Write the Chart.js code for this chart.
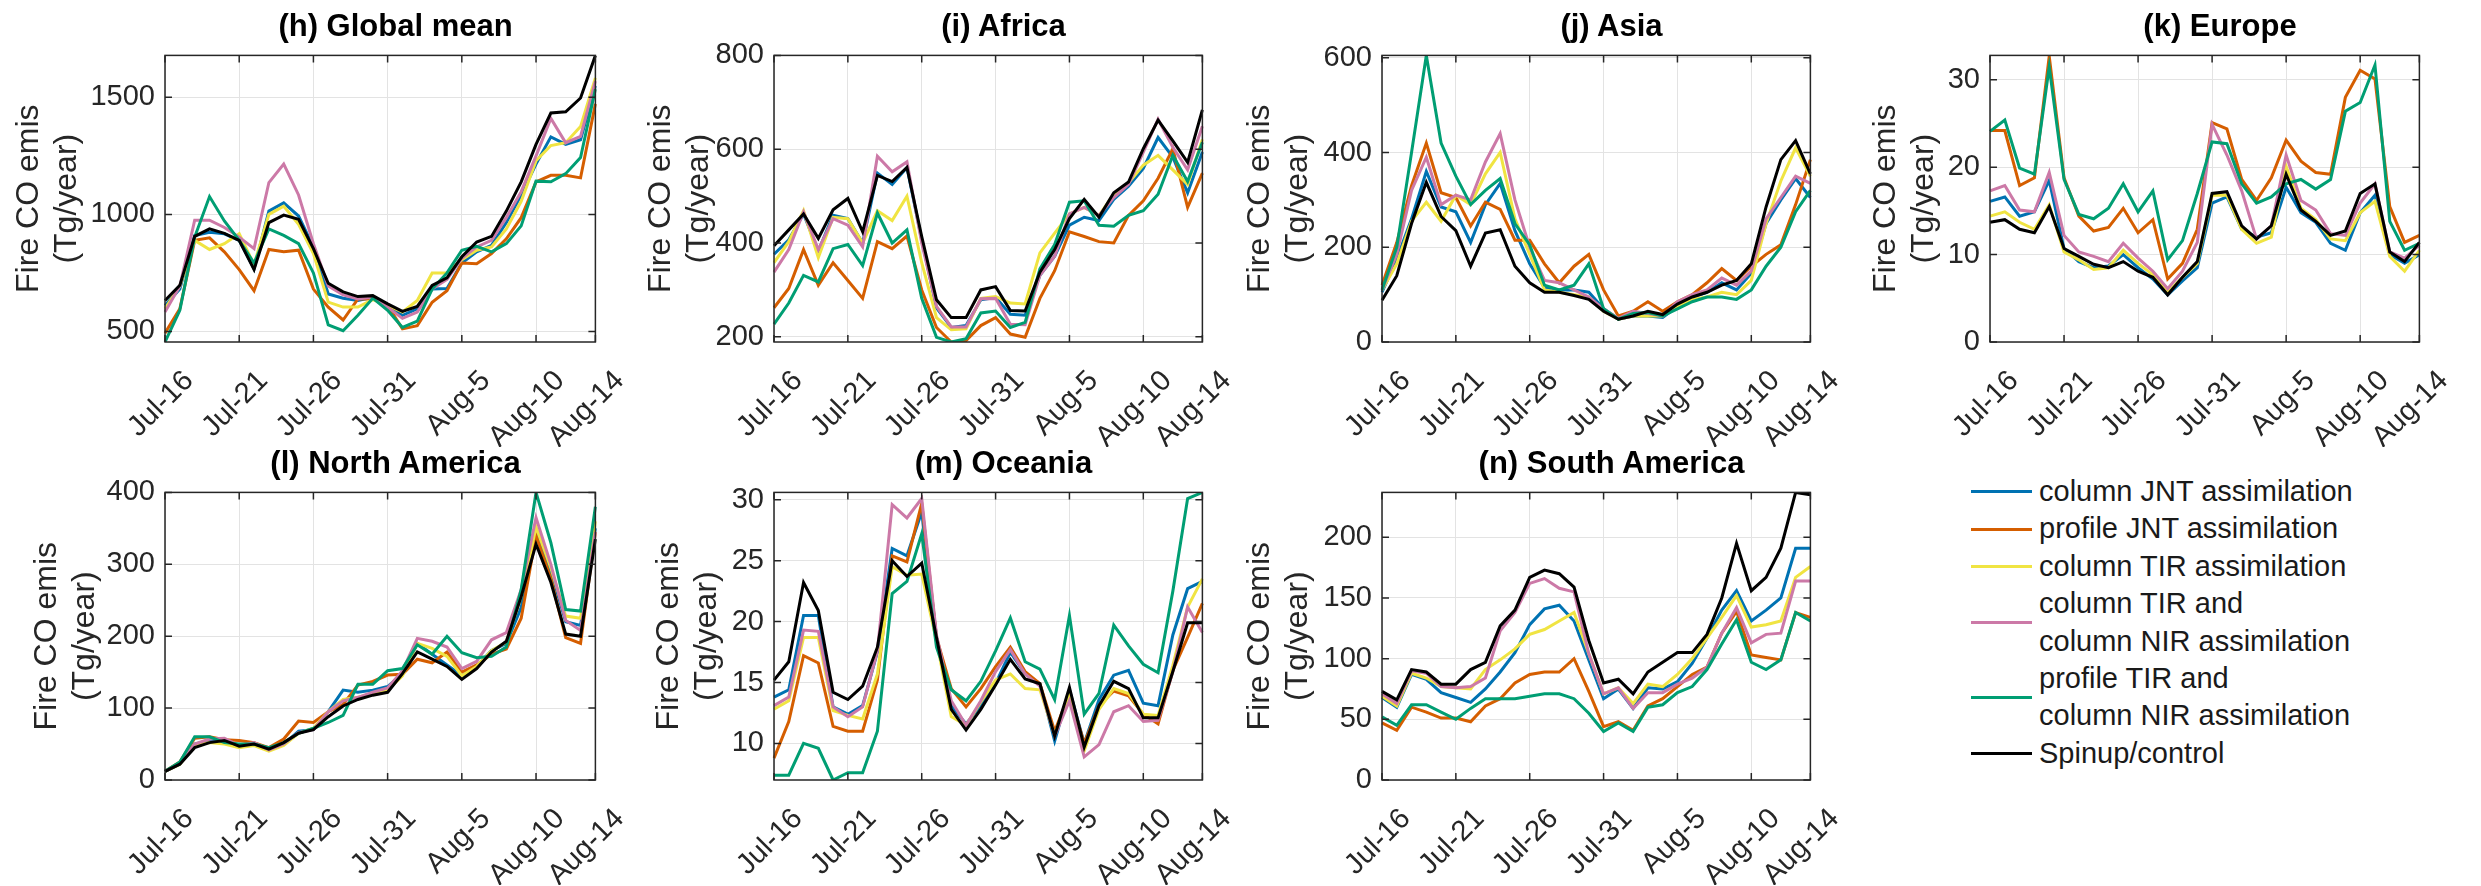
<!DOCTYPE html>
<html>
<head>
<meta charset="utf-8">
<script src="https://cdn.jsdelivr.net/npm/chart.js@4.4.1/dist/chart.umd.min.js"></script>
<style>
  body { margin: 0; background: #fff; width: 2481px; height: 886px; position: relative; overflow: hidden;
         font-family: "Liberation Sans", Arial, sans-serif; }
  canvas { position: absolute; }
  .ttl { position: absolute; font-weight: bold; font-size: 31px; line-height: 37px; text-align: center;
         color: #000; white-space: nowrap; }
  #legend { position: absolute; left: 1971px; top: 473px; font-size: 29px; line-height: 37.4px; color: #1a1a1a; }
  .item { display: flex; align-items: center; white-space: pre-line; }
  .swatch { width: 61px; height: 3px; margin-right: 7px; flex: none; }
</style>
</head>
<body>
<div id="legend"></div>
<script>
/* Categories */
const dates = ["Jul-16", "Jul-17", "Jul-18", "Jul-19", "Jul-20", "Jul-21", "Jul-22", "Jul-23", "Jul-24", "Jul-25",
  "Jul-26", "Jul-27", "Jul-28", "Jul-29", "Jul-30", "Jul-31", "Aug-1", "Aug-2", "Aug-3", "Aug-4",
  "Aug-5", "Aug-6", "Aug-7", "Aug-8", "Aug-9", "Aug-10", "Aug-11", "Aug-12", "Aug-13", "Aug-14"];
const shownDates = ["Jul-16", "Jul-21", "Jul-26", "Jul-31", "Aug-5", "Aug-10", "Aug-14"];

const seriesNames = ["column JNT assimilation", "profile JNT assimilation", "column TIR assimilation",
  "column TIR and\ncolumn NIR assimilation", "profile TIR and\ncolumn NIR assimilation", "Spinup/control"];
const seriesColors = ["#0072B2", "#D55E00", "#F0E442", "#CC79A7", "#009E73", "#000000"];

/* Series values, one row per series in the order of seriesNames (Tg/year) */
const globalMean = [
  [611, 681, 910, 924, 917, 889, 767, 1014, 1049, 993, 861, 660, 642, 632, 646, 611, 569, 597, 681, 683, 792, 840, 868, 965, 1083, 1215, 1331, 1299, 1319, 1549],
  [493, 597, 889, 900, 840, 764, 674, 850, 840, 847, 681, 604, 549, 639, 639, 611, 511, 525, 625, 674, 792, 789, 833, 896, 986, 1139, 1167, 1167, 1156, 1472],
  [597, 694, 889, 850, 875, 917, 785, 1000, 1035, 958, 833, 625, 604, 604, 636, 611, 583, 632, 750, 750, 806, 847, 861, 938, 1056, 1229, 1294, 1306, 1375, 1583],
  [583, 694, 975, 975, 944, 903, 854, 1136, 1215, 1083, 875, 694, 656, 639, 646, 604, 556, 583, 681, 722, 812, 861, 889, 986, 1097, 1250, 1410, 1306, 1333, 1569],
  [455, 590, 903, 1076, 972, 889, 792, 938, 910, 875, 750, 528, 503, 569, 642, 590, 517, 544, 681, 750, 847, 864, 840, 875, 951, 1142, 1139, 1174, 1243, 1535],
  [632, 697, 906, 938, 919, 889, 764, 965, 997, 979, 854, 706, 669, 649, 653, 618, 586, 607, 697, 729, 819, 882, 906, 1014, 1139, 1299, 1433, 1438, 1497, 1679]
];
const africa = [
  [376, 407, 462, 383, 459, 452, 400, 549, 525, 561, 407, 262, 220, 224, 279, 284, 248, 246, 331, 372, 438, 455, 448, 493, 521, 559, 625, 583, 507, 594],
  [262, 303, 386, 310, 358, 320, 282, 403, 388, 415, 300, 220, 189, 192, 224, 241, 206, 199, 282, 341, 424, 414, 403, 400, 459, 490, 538, 601, 476, 549],
  [358, 403, 469, 369, 455, 452, 400, 469, 448, 500, 358, 241, 215, 217, 282, 286, 272, 270, 379, 421, 462, 476, 459, 504, 528, 566, 587, 556, 525, 621],
  [338, 386, 466, 386, 452, 438, 392, 585, 552, 573, 400, 265, 221, 221, 281, 282, 227, 226, 331, 372, 462, 476, 459, 497, 525, 594, 664, 604, 556, 649],
  [227, 272, 331, 317, 388, 397, 352, 464, 400, 428, 282, 199, 189, 196, 251, 255, 220, 231, 345, 397, 487, 490, 438, 436, 459, 469, 504, 587, 531, 615],
  [394, 428, 462, 410, 471, 495, 424, 544, 531, 561, 414, 279, 241, 241, 300, 307, 256, 255, 338, 386, 452, 493, 455, 507, 530, 601, 662, 618, 572, 684]
];
const asia = [
  [105, 175, 260, 360, 285, 275, 210, 290, 335, 235, 165, 115, 110, 110, 105, 70, 48, 55, 55, 52, 75, 95, 105, 125, 110, 145, 250, 300, 345, 305],
  [120, 210, 330, 420, 315, 305, 245, 295, 280, 215, 215, 165, 125, 160, 185, 110, 55, 65, 85, 65, 85, 100, 125, 155, 130, 160, 185, 205, 290, 385],
  [110, 165, 255, 295, 255, 310, 290, 355, 400, 260, 185, 110, 105, 100, 95, 65, 48, 55, 55, 55, 75, 90, 95, 105, 100, 130, 250, 340, 410, 350],
  [110, 185, 320, 390, 290, 310, 300, 380, 440, 300, 200, 130, 125, 110, 95, 70, 50, 65, 60, 55, 85, 100, 110, 135, 120, 150, 260, 305, 350, 335],
  [110, 200, 400, 605, 420, 350, 290, 320, 345, 250, 205, 120, 110, 120, 165, 70, 48, 60, 62, 55, 70, 85, 95, 95, 90, 110, 160, 200, 275, 320],
  [88, 140, 250, 337, 265, 235, 160, 230, 237, 160, 125, 105, 105, 98, 90, 65, 48, 55, 65, 58, 80, 95, 105, 120, 130, 165, 285, 385, 425, 355]
];
const europe = [
  [16.1, 16.6, 14.4, 14.9, 18.5, 10.7, 9.2, 8.5, 8.7, 10.0, 8.5, 7.2, 5.4, 7.0, 8.5, 15.9, 16.6, 12.9, 12.0, 12.5, 17.7, 14.8, 13.7, 11.3, 10.5, 14.8, 16.8, 10.0, 9.0, 10.0],
  [24.2, 24.2, 17.9, 18.8, 32.7, 18.8, 14.4, 12.7, 13.1, 15.3, 12.5, 14.0, 7.2, 9.0, 12.9, 25.1, 24.4, 18.6, 16.2, 18.8, 23.1, 20.7, 19.4, 19.2, 28.0, 31.1, 30.1, 15.5, 11.4, 12.2],
  [14.4, 14.9, 13.7, 12.9, 15.7, 10.3, 9.4, 8.3, 8.5, 10.5, 9.0, 7.7, 5.7, 7.4, 9.0, 16.8, 16.8, 12.9, 11.3, 12.0, 20.1, 15.3, 14.0, 11.8, 11.6, 14.8, 16.1, 9.8, 8.1, 10.5],
  [17.3, 17.9, 15.1, 14.9, 19.4, 12.2, 10.3, 9.8, 9.2, 11.3, 9.6, 8.1, 6.1, 8.1, 11.4, 24.9, 21.4, 17.3, 11.8, 13.3, 21.4, 16.2, 15.1, 12.4, 12.2, 15.9, 18.1, 10.3, 9.6, 11.1],
  [24.1, 25.4, 19.9, 19.2, 31.5, 18.6, 14.6, 14.1, 15.3, 18.1, 14.9, 17.3, 9.4, 11.6, 17.0, 22.9, 22.7, 18.1, 15.9, 16.6, 18.1, 18.6, 17.5, 18.6, 26.4, 27.4, 31.7, 13.8, 10.5, 11.3],
  [13.7, 14.0, 12.9, 12.5, 15.5, 10.7, 9.8, 8.9, 8.5, 9.2, 8.1, 7.4, 5.4, 7.4, 9.2, 17.0, 17.2, 13.3, 11.8, 13.3, 19.2, 15.1, 13.8, 12.2, 12.7, 17.0, 18.1, 10.3, 9.2, 11.4]
];
const northAmerica = [
  [12, 22, 50, 55, 52, 48, 50, 42, 50, 68, 70, 95, 125, 122, 125, 130, 148, 190, 175, 160, 145, 158, 180, 190, 240, 345, 290, 220, 215, 350],
  [12, 25, 58, 60, 56, 55, 52, 45, 57, 82, 80, 95, 105, 132, 137, 146, 147, 168, 163, 178, 150, 160, 175, 182, 225, 340, 280, 198, 190, 345],
  [12, 22, 48, 52, 50, 45, 48, 40, 48, 65, 72, 95, 112, 115, 120, 125, 145, 190, 183, 172, 145, 158, 180, 192, 255, 352, 295, 228, 225, 360],
  [12, 23, 50, 57, 58, 48, 52, 42, 50, 66, 70, 95, 110, 115, 122, 128, 152, 197, 193, 185, 155, 165, 195, 205, 265, 365, 300, 222, 208, 345],
  [12, 25, 60, 60, 52, 50, 50, 45, 52, 65, 72, 80, 90, 133, 133, 152, 155, 188, 175, 200, 177, 170, 172, 185, 265, 400, 330, 237, 235, 380],
  [12, 22, 45, 52, 55, 47, 50, 43, 52, 65, 70, 88, 103, 112, 118, 122, 148, 178, 168, 158, 140, 155, 178, 193, 255, 328, 275, 203, 200, 335]
];
const oceania = [
  [13.8, 14.4, 20.5, 20.5, 13.0, 12.4, 13.1, 17.5, 26.0, 25.4, 29.0, 18.7, 13.1, 11.6, 13.1, 14.9, 17.5, 15.7, 14.9, 10.2, 14.4, 10.0, 13.6, 15.6, 16.0, 13.3, 13.1, 18.9, 22.7, 23.3],
  [8.8, 11.8, 17.2, 16.6, 11.4, 11.0, 11.0, 15.2, 25.4, 24.9, 29.7, 18.7, 14.5, 13.0, 14.5, 16.3, 17.9, 15.9, 14.9, 11.0, 14.1, 10.0, 13.1, 14.3, 13.9, 12.4, 11.6, 16.0, 18.7, 21.5],
  [12.8, 13.5, 18.7, 18.7, 12.7, 12.3, 12.0, 15.7, 24.5, 23.8, 23.9, 18.4, 12.2, 11.5, 13.4, 15.2, 15.7, 14.5, 14.4, 10.7, 14.0, 9.4, 12.8, 14.5, 14.1, 12.4, 12.3, 16.4, 21.2, 23.5],
  [13.1, 13.8, 19.3, 19.2, 13.0, 12.2, 13.0, 17.6, 29.6, 28.5, 30.1, 18.9, 13.5, 11.5, 13.5, 15.9, 17.7, 15.7, 14.7, 10.6, 13.5, 8.9, 9.9, 12.6, 13.1, 11.8, 11.9, 15.9, 21.2, 19.1],
  [7.4, 7.4, 10.0, 9.6, 7.0, 7.6, 7.6, 11.0, 22.3, 23.3, 27.2, 17.9, 14.4, 13.5, 15.1, 17.6, 20.3, 16.7, 16.1, 13.6, 20.5, 12.4, 14.1, 19.7, 18.0, 16.5, 15.8, 22.5, 30.1, 30.6],
  [15.2, 16.7, 23.2, 20.9, 14.2, 13.6, 14.7, 17.9, 25.0, 23.7, 24.8, 18.7, 12.8, 11.1, 12.8, 14.8, 16.9, 15.3, 14.9, 10.6, 14.6, 9.7, 13.1, 15.1, 14.5, 12.1, 12.1, 15.9, 19.9, 19.9]
];
const southAmerica = [
  [68, 60, 87, 83, 72, 68, 64, 75, 89, 105, 128, 141, 144, 131, 99, 67, 75, 59, 76, 75, 81, 96, 117, 140, 156, 131, 140, 150, 191, 191],
  [47, 41, 60, 56, 51, 51, 48, 61, 67, 80, 87, 89, 89, 100, 73, 44, 48, 41, 61, 67, 77, 87, 93, 121, 139, 103, 101, 99, 138, 134],
  [69, 61, 88, 84, 77, 76, 75, 91, 99, 108, 120, 124, 131, 138, 104, 71, 76, 63, 79, 77, 87, 100, 117, 134, 152, 126, 128, 131, 167, 176],
  [71, 63, 90, 88, 77, 76, 77, 84, 123, 138, 162, 166, 158, 155, 104, 71, 76, 59, 72, 72, 79, 84, 93, 121, 142, 113, 120, 121, 164, 164],
  [52, 45, 62, 62, 56, 50, 59, 67, 67, 67, 69, 71, 71, 67, 55, 40, 47, 40, 60, 62, 72, 77, 91, 112, 132, 97, 91, 99, 138, 131],
  [73, 66, 91, 89, 79, 79, 91, 97, 127, 140, 167, 173, 170, 159, 115, 80, 83, 71, 89, 97, 105, 105, 120, 150, 195, 156, 167, 191, 237, 235]
];

/* Tick labels */
const globalTicks = [500, 1000, 1500];
const africaTicks = [200, 400, 600, 800];
const asiaTicks = [0, 200, 400, 600];
const europeTicks = [0, 10, 20, 30];
const northAmericaTicks = [0, 100, 200, 300, 400];
const oceaniaTicks = [10, 15, 20, 25, 30];
const southAmericaTicks = [0, 50, 100, 150, 200];

/* Panels: plot box in page pixels [left, top, right, bottom] */
const panels = [
  { title: "(h) Global mean", rows: globalMean, ticks: globalTicks, min: 455, max: 1679, box: [165, 48, 626, 342], axisW: 155 },
  { title: "(i) Africa", rows: africa, ticks: africaTicks, min: 189, max: 800, box: [774, 48, 1233, 342], axisW: 132 },
  { title: "(j) Asia", rows: asia, ticks: asiaTicks, min: 0, max: 605, box: [1382, 48, 1841, 342], axisW: 141 },
  { title: "(k) Europe", rows: europe, ticks: europeTicks, min: 0, max: 32.8, box: [1990, 48, 2450, 342], axisW: 123 },
  { title: "(l) North America", rows: northAmerica, ticks: northAmericaTicks, min: 0, max: 400, box: [165, 485, 626, 780], axisW: 137 },
  { title: "(m) Oceania", rows: oceania, ticks: oceaniaTicks, min: 7.0, max: 30.6, box: [774, 485, 1233, 780], axisW: 124 },
  { title: "(n) South America", rows: southAmerica, ticks: southAmericaTicks, min: 0, max: 237, box: [1382, 485, 1841, 780], axisW: 141 }
];

const textColor = "#262626";
const gridColor = "#e3e3e3";
const PAD_TOP = 20;
const PAD_RIGHT = 16;
const X_AXIS_H = 105;

Chart.defaults.font.family = '"Liberation Sans", Arial, sans-serif';

/* Box round the plot with inward ticks, as in the original figure */
const boxPlugin = {
  id: "box",
  afterDraw(chart, args, opts) {
    const { ctx, chartArea: a, scales } = chart;
    ctx.save();
    ctx.strokeStyle = textColor;
    ctx.lineWidth = 1.5;
    ctx.strokeRect(a.left, a.top, a.width, a.height);
    ctx.beginPath();
    shownDates.forEach((d) => {
      const x = scales.x.getPixelForValue(dates.indexOf(d));
      ctx.moveTo(x, a.bottom); ctx.lineTo(x, a.bottom - 7);
      ctx.moveTo(x, a.top); ctx.lineTo(x, a.top + 7);
    });
    opts.ticks.forEach((v) => {
      const y = scales.y.getPixelForValue(v);
      ctx.moveTo(a.left, y); ctx.lineTo(a.left + 7, y);
      ctx.moveTo(a.right, y); ctx.lineTo(a.right - 7, y);
    });
    ctx.stroke();
    ctx.restore();
  }
};

panels.forEach((p) => {
  const [left, top, right, bottom] = p.box;
  const canvas = document.createElement("canvas");
  canvas.width = p.axisW + (right - left) + PAD_RIGHT;
  canvas.height = PAD_TOP + (bottom - top) + X_AXIS_H;
  canvas.style.left = (left - p.axisW) + "px";
  canvas.style.top = (top - PAD_TOP) + "px";
  document.body.appendChild(canvas);

  const title = document.createElement("div");
  title.className = "ttl";
  title.textContent = p.title;
  title.style.left = left + "px";
  title.style.width = (right - left) + "px";
  title.style.top = (top - 23 - 18.5) + "px";
  document.body.appendChild(title);

  new Chart(canvas, {
    type: "line",
    data: {
      labels: dates,
      datasets: p.rows.map((row, i) => ({
        label: seriesNames[i],
        data: row,
        borderColor: seriesColors[i],
        backgroundColor: seriesColors[i],
        borderWidth: 3,
        pointRadius: 0,
        tension: 0,
        fill: false,
        order: seriesNames.length - 1 - i
      }))
    },
    options: {
      responsive: false,
      animation: false,
      layout: { padding: { top: PAD_TOP, right: PAD_RIGHT, left: 0, bottom: 0 } },
      plugins: {
        legend: { display: false },
        tooltip: { enabled: false },
        box: { ticks: p.ticks }
      },
      scales: {
        x: {
          type: "category",
          grid: { color: gridColor, lineWidth: 1, drawTicks: false },
          border: { display: false },
          ticks: {
            autoSkip: false,
            maxRotation: 45,
            minRotation: 45,
            padding: 22,
            labelOffset: 24,
            color: textColor,
            font: { size: 29 },
            callback: function (value, index) {
              return shownDates.includes(dates[index]) ? dates[index] : null;
            }
          },
          afterFit: (scale) => { scale.height = X_AXIS_H; }
        },
        y: {
          min: p.min,
          max: p.max,
          grid: { color: gridColor, lineWidth: 1, drawTicks: false },
          border: { display: false },
          ticks: {
            padding: 10,
            color: textColor,
            font: { size: 29 },
            callback: (v) => String(v)
          },
          afterBuildTicks: (scale) => { scale.ticks = p.ticks.map((v) => ({ value: v })); },
          afterFit: (scale) => { scale.width = p.axisW; },
          title: {
            display: true,
            text: ["Fire CO emis", "(Tg/year)"],
            color: textColor,
            font: { size: 32 },
            padding: { top: 0, bottom: 0 }
          }
        }
      }
    },
    plugins: [boxPlugin]
  });
});

/* Legend */
const legend = document.getElementById("legend");
seriesNames.forEach((name, i) => {
  const item = document.createElement("div");
  item.className = "item";
  const swatch = document.createElement("span");
  swatch.className = "swatch";
  swatch.style.background = seriesColors[i];
  const text = document.createElement("span");
  text.textContent = name;
  item.appendChild(swatch);
  item.appendChild(text);
  legend.appendChild(item);
});
</script>
</body>
</html>
